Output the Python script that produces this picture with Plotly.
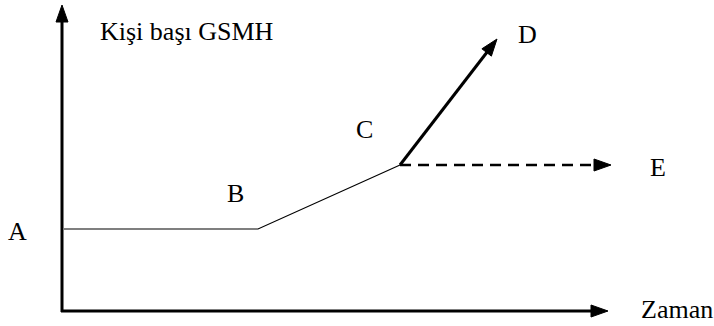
import numpy as np
import plotly.graph_objects as go

# diagram data (time on x, per-capita GNP on y; origin = where the axes meet)
axis_time_end = 546
axis_gsmh_end = 306

path_time = [2, 196, 338]       # A -> B -> C
path_gsmh = [82, 82, 146]

d_time = [338, 435]             # C -> D (rapid growth)
d_gsmh = [146, 272]

e_time = [338, 549]             # C -> E (stagnation)
e_gsmh = [146, 146]

label_names = ["A", "B", "C", "D", "E"]
label_time = [-45, 173, 302, 465, 596]
label_gsmh = [80, 118, 182, 277, 144]

y_title = "Kişi başı GSMH"
x_title = "Zaman"

FONT = "Liberation Serif"


def arrow_head(x0, y0, x1, y1, length=17, width=12):
    # filled triangle with its tip at (x1, y1), pointing away from (x0, y0)
    v = np.array([x1 - x0, y1 - y0], dtype=float)
    v /= np.hypot(*v)
    n = np.array([-v[1], v[0]])
    tip = np.array([x1, y1], dtype=float)
    base = tip - v * length
    p1 = base + n * width / 2
    p2 = base - n * width / 2
    return [tip[0], p1[0], p2[0], tip[0]], [tip[1], p1[1], p2[1], tip[1]]


fig = go.Figure()

line_kw = dict(mode="lines", hoverinfo="skip", showlegend=False)

# axes
fig.add_trace(go.Scatter(x=[0, 0], y=[-1, axis_gsmh_end - 10],
                         line=dict(color="black", width=3), **line_kw))
fig.add_trace(go.Scatter(x=[-1, axis_time_end - 10], y=[0, 0],
                         line=dict(color="black", width=3), **line_kw))

# A-B-C path
fig.add_trace(go.Scatter(x=path_time, y=path_gsmh,
                         line=dict(color="black", width=1.2), **line_kw))

# C-D
fig.add_trace(go.Scatter(x=[d_time[0], d_time[1] - 6], y=[d_gsmh[0], d_gsmh[1] - 8],
                         line=dict(color="black", width=3), **line_kw))

# C-E dashed
fig.add_trace(go.Scatter(x=[e_time[0], e_time[1] - 10], y=e_gsmh,
                         line=dict(color="black", width=2.6, dash="11px,7px"), **line_kw))

# arrow heads
heads = [
    arrow_head(0, 0, 0, axis_gsmh_end),
    arrow_head(0, 0, axis_time_end, 0),
    arrow_head(d_time[0], d_gsmh[0], d_time[1], d_gsmh[1]),
    arrow_head(e_time[0], e_gsmh[0], e_time[1], e_gsmh[1]),
]
for hx, hy in heads:
    fig.add_trace(go.Scatter(x=hx, y=hy, mode="lines", fill="toself",
                             fillcolor="black", line=dict(color="black", width=1),
                             hoverinfo="skip", showlegend=False))

for name, t, g in zip(label_names, label_time, label_gsmh):
    fig.add_annotation(x=t, y=g, text=name, showarrow=False,
                       xanchor="center", yanchor="middle",
                       font=dict(family=FONT, size=26, color="black"))

fig.add_annotation(x=36, y=280, text=y_title, showarrow=False,
                   xanchor="left", yanchor="middle",
                   font=dict(family=FONT, size=26, color="black"))
fig.add_annotation(x=577, y=2, text=x_title, showarrow=False,
                   xanchor="left", yanchor="middle",
                   font=dict(family=FONT, size=26, color="black"))

fig.update_layout(
    width=714,
    height=326,
    margin=dict(l=0, r=0, t=0, b=0),
    paper_bgcolor="white",
    plot_bgcolor="white",
    font=dict(family=FONT),
    xaxis=dict(range=[-62, 652], visible=False, fixedrange=True),
    yaxis=dict(range=[-15, 311], visible=False, fixedrange=True),
)

# drop the default 8px page margin so the figure sits at the window corner
fig.write_html("out.html", config={"displayModeBar": False},
               post_script="document.body.style.margin='0';")
